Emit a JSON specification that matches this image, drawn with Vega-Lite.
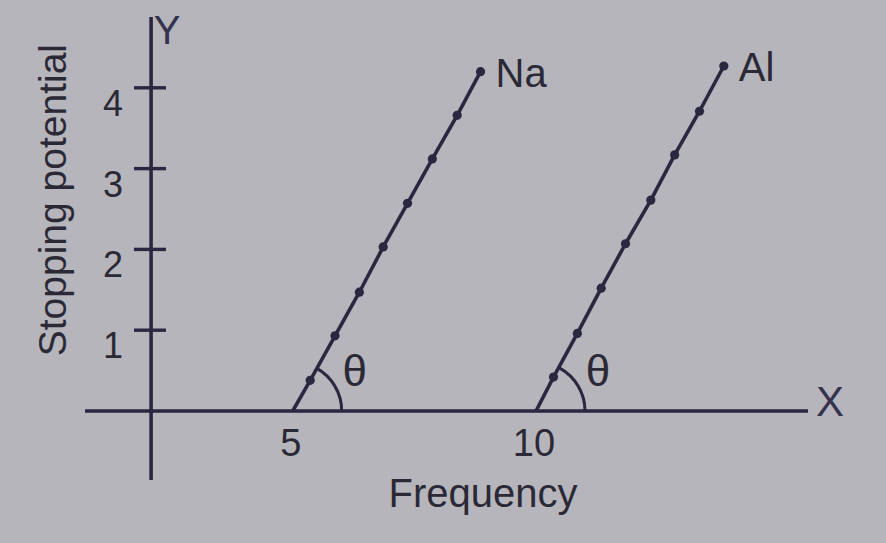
{
  "$schema": "https://vega.github.io/schema/vega-lite/v6.json",
  "width": 886,
  "height": 543,
  "autosize": {"type": "fit", "contains": "padding"},
  "padding": 0,
  "background": "#b6b5bc",
  "config": {"view": {"stroke": null}, "font": "Liberation Sans"},
  "datasets": {
    "lines": [
      {"metal": "Na", "i": 0, "f": 5.0, "v": 0.0},
      {"metal": "Na", "i": 1, "f": 5.36, "v": 0.38},
      {"metal": "Na", "i": 2, "f": 5.87, "v": 0.93},
      {"metal": "Na", "i": 3, "f": 6.37, "v": 1.47},
      {"metal": "Na", "i": 4, "f": 6.86, "v": 2.03},
      {"metal": "Na", "i": 5, "f": 7.36, "v": 2.57},
      {"metal": "Na", "i": 6, "f": 7.87, "v": 3.12},
      {"metal": "Na", "i": 7, "f": 8.38, "v": 3.66},
      {"metal": "Na", "i": 8, "f": 8.86, "v": 4.2},
      {"metal": "Al", "i": 0, "f": 10.0, "v": 0.0},
      {"metal": "Al", "i": 1, "f": 10.36, "v": 0.42},
      {"metal": "Al", "i": 2, "f": 10.85, "v": 0.96},
      {"metal": "Al", "i": 3, "f": 11.34, "v": 1.52},
      {"metal": "Al", "i": 4, "f": 11.84, "v": 2.07},
      {"metal": "Al", "i": 5, "f": 12.36, "v": 2.61},
      {"metal": "Al", "i": 6, "f": 12.85, "v": 3.17},
      {"metal": "Al", "i": 7, "f": 13.36, "v": 3.71},
      {"metal": "Al", "i": 8, "f": 13.86, "v": 4.27}
    ],
    "yticks": [{"v": 1}, {"v": 2}, {"v": 3}, {"v": 4}],
    "xticks": [{"f": 5, "label": "5"}, {"f": 10, "label": "10"}],
    "one": [{"item": "frame"}]
  },
  "layer": [
    {
      "data": {"name": "one"},
      "mark": {"type": "rule", "stroke": "#2a2740", "strokeWidth": 3.6},
      "encoding": {
        "x": {"datum": 2.09, "type": "quantitative", "scale": {"domain": [-1.015, 17.193], "nice": false, "zero": false}, "axis": null},
        "y": {"datum": 4.876, "type": "quantitative", "scale": {"domain": [-1.634, 5.087], "nice": false, "zero": false}, "axis": null},
        "y2": {"datum": -0.854}
      }
    },
    {
      "data": {"name": "one"},
      "mark": {"type": "rule", "stroke": "#2a2740", "strokeWidth": 3.6},
      "encoding": {
        "x": {"datum": 0.732, "type": "quantitative", "scale": {"domain": [-1.015, 17.193], "nice": false, "zero": false}, "axis": null},
        "x2": {"datum": 15.59},
        "y": {"datum": 0, "type": "quantitative", "scale": {"domain": [-1.634, 5.087], "nice": false, "zero": false}, "axis": null}
      }
    },
    {
      "data": {"name": "yticks"},
      "mark": {"type": "rule", "stroke": "#2a2740", "strokeWidth": 3.4},
      "encoding": {
        "x": {"datum": 1.739, "type": "quantitative", "scale": {"domain": [-1.015, 17.193], "nice": false, "zero": false}, "axis": null},
        "x2": {"datum": 2.396},
        "y": {"field": "v", "type": "quantitative", "scale": {"domain": [-1.634, 5.087], "nice": false, "zero": false}, "axis": null}
      }
    },
    {
      "data": {"name": "yticks"},
      "mark": {"type": "text", "fontSize": 36, "color": "#2b2935", "align": "center", "baseline": "middle", "dy": 17},
      "encoding": {
        "x": {"datum": 1.31, "type": "quantitative", "scale": {"domain": [-1.015, 17.193], "nice": false, "zero": false}, "axis": null},
        "y": {"field": "v", "type": "quantitative", "scale": {"domain": [-1.634, 5.087], "nice": false, "zero": false}, "axis": null},
        "text": {"field": "v", "type": "quantitative"}
      }
    },
    {
      "data": {"name": "xticks"},
      "mark": {"type": "text", "fontSize": 38, "color": "#2b2935", "align": "center", "baseline": "middle", "dy": 34, "dx": -2},
      "encoding": {
        "x": {"field": "f", "type": "quantitative", "scale": {"domain": [-1.015, 17.193], "nice": false, "zero": false}, "axis": null},
        "y": {"datum": 0, "type": "quantitative", "scale": {"domain": [-1.634, 5.087], "nice": false, "zero": false}, "axis": null},
        "text": {"field": "label"}
      }
    },
    {
      "data": {"name": "lines"},
      "mark": {"type": "line", "stroke": "#2a2740", "strokeWidth": 3.6},
      "encoding": {
        "x": {"field": "f", "type": "quantitative", "scale": {"domain": [-1.015, 17.193], "nice": false, "zero": false}, "axis": null},
        "y": {"field": "v", "type": "quantitative", "scale": {"domain": [-1.634, 5.087], "nice": false, "zero": false}, "axis": null},
        "detail": {"field": "metal"},
        "order": {"field": "i"}
      }
    },
    {
      "data": {"name": "lines"},
      "transform": [{"filter": "datum.i > 0"}],
      "mark": {"type": "point", "filled": true, "color": "#2a2740", "size": 85, "opacity": 1},
      "encoding": {
        "x": {"field": "f", "type": "quantitative", "scale": {"domain": [-1.015, 17.193], "nice": false, "zero": false}, "axis": null},
        "y": {"field": "v", "type": "quantitative", "scale": {"domain": [-1.634, 5.087], "nice": false, "zero": false}, "axis": null}
      }
    },
    {
      "data": {"name": "lines"},
      "transform": [{"filter": "datum.i == 0"}],
      "mark": {"type": "arc", "filled": false, "stroke": "#2a2740", "strokeWidth": 3, "radius": 49, "radius2": 49, "theta": 0.506, "theta2": 1.5708},
      "encoding": {
        "x": {"field": "f", "type": "quantitative", "scale": {"domain": [-1.015, 17.193], "nice": false, "zero": false}, "axis": null},
        "y": {"field": "v", "type": "quantitative", "scale": {"domain": [-1.634, 5.087], "nice": false, "zero": false}, "axis": null}
      }
    },
    {
      "data": {"name": "lines"},
      "transform": [{"filter": "datum.i == 0"}],
      "mark": {"type": "text", "text": "θ", "fontSize": 44, "color": "#2b2935", "align": "center", "baseline": "middle", "dx": 62, "dy": -38},
      "encoding": {
        "x": {"field": "f", "type": "quantitative", "scale": {"domain": [-1.015, 17.193], "nice": false, "zero": false}, "axis": null},
        "y": {"field": "v", "type": "quantitative", "scale": {"domain": [-1.634, 5.087], "nice": false, "zero": false}, "axis": null}
      }
    },
    {
      "data": {"name": "lines"},
      "transform": [{"filter": "datum.i == 8"}],
      "mark": {"type": "text", "fontSize": 40, "color": "#2b2935", "align": "left", "baseline": "middle", "dx": 15, "dy": 3},
      "encoding": {
        "x": {"field": "f", "type": "quantitative", "scale": {"domain": [-1.015, 17.193], "nice": false, "zero": false}, "axis": null},
        "y": {"field": "v", "type": "quantitative", "scale": {"domain": [-1.634, 5.087], "nice": false, "zero": false}, "axis": null},
        "text": {"field": "metal"}
      }
    },
    {
      "data": {"name": "one"},
      "mark": {"type": "text", "text": "Frequency", "fontSize": 40, "color": "#2b2935", "align": "center", "baseline": "middle"},
      "encoding": {
        "x": {"datum": 8.91, "type": "quantitative", "scale": {"domain": [-1.015, 17.193], "nice": false, "zero": false}, "axis": null},
        "y": {"datum": -1.034, "type": "quantitative", "scale": {"domain": [-1.634, 5.087], "nice": false, "zero": false}, "axis": null}
      }
    },
    {
      "data": {"name": "one"},
      "mark": {"type": "text", "text": "Stopping potential", "fontSize": 39, "angle": 270, "color": "#2b2935", "align": "center", "baseline": "middle"},
      "encoding": {
        "x": {"datum": 0.1, "type": "quantitative", "scale": {"domain": [-1.015, 17.193], "nice": false, "zero": false}, "axis": null},
        "y": {"datum": 2.61, "type": "quantitative", "scale": {"domain": [-1.634, 5.087], "nice": false, "zero": false}, "axis": null}
      }
    },
    {
      "data": {"name": "one"},
      "mark": {"type": "text", "text": "X", "fontSize": 42, "color": "#35324f", "align": "center", "baseline": "middle"},
      "encoding": {
        "x": {"datum": 16.04, "type": "quantitative", "scale": {"domain": [-1.015, 17.193], "nice": false, "zero": false}, "axis": null},
        "y": {"datum": 0.1, "type": "quantitative", "scale": {"domain": [-1.634, 5.087], "nice": false, "zero": false}, "axis": null}
      }
    },
    {
      "data": {"name": "one"},
      "mark": {"type": "text", "text": "Y", "fontSize": 40, "color": "#35324f", "align": "center", "baseline": "middle"},
      "encoding": {
        "x": {"datum": 2.417, "type": "quantitative", "scale": {"domain": [-1.015, 17.193], "nice": false, "zero": false}, "axis": null},
        "y": {"datum": 4.69, "type": "quantitative", "scale": {"domain": [-1.634, 5.087], "nice": false, "zero": false}, "axis": null}
      }
    }
  ]
}
